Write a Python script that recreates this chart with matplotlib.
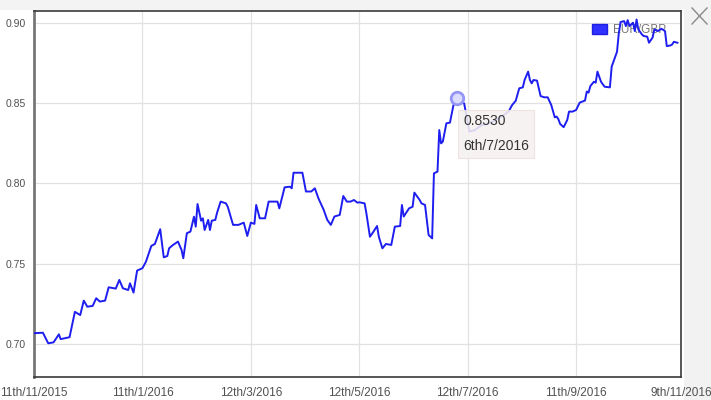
import numpy as np
import pandas as pd
import matplotlib
matplotlib.use("Agg")
import matplotlib.pyplot as plt
from matplotlib.patches import Patch, Rectangle
from matplotlib.lines import Line2D

plt.rcParams['font.family'] = ['Liberation Sans', 'DejaVu Sans']

# EUR/GBP daily rate (days after 11 Nov 2015)
start_date = "2015-11-11"
day_offset = [0, 5, 8, 11, 14, 15, 20, 23, 26, 28, 30, 33, 35, 37, 40, 42, 46, 48, 50, 53,
              54, 56, 58, 61, 63, 66, 68, 71, 73, 75, 76, 78, 81, 83, 84, 86, 88, 90, 91, 92,
              94, 95, 96, 98, 99, 100, 102, 103, 105, 108, 109, 112, 115, 118, 120, 122, 124, 125, 127, 130,
              132, 137, 138, 141, 144, 145, 146, 151, 153, 156, 158, 160, 163, 165, 167, 169, 172, 174, 176, 178,
              180, 182, 183, 186, 187, 189, 191, 193, 194, 196, 198, 201, 203, 206, 207, 208, 211, 213, 214, 217,
              218, 220, 222, 224, 225, 227, 228, 229, 230, 232, 234, 236, 238, 239, 240, 242, 245, 248, 252, 256,
              258, 263, 267, 269, 271, 273, 275, 276, 278, 279, 280, 281, 283, 285, 287, 289, 291, 293, 294, 295,
              296, 298, 300, 301, 303, 305, 307, 310, 311, 312, 313, 315, 316, 317, 319, 321, 324, 325, 327, 328,
              329, 330, 332, 333, 334, 335, 337, 338, 339, 340, 342, 343, 345, 346, 348, 349, 351, 353, 355, 356,
              358, 359, 360, 362]
eur_gbp = [0.7067, 0.7070, 0.7004, 0.7010, 0.7060, 0.7030, 0.7042, 0.7200, 0.7180, 0.7270,
           0.7232, 0.7237, 0.7285, 0.7264, 0.7270, 0.7353, 0.7345, 0.7399, 0.7347, 0.7336,
           0.7378, 0.7320, 0.7457, 0.7472, 0.7513, 0.7611, 0.7623, 0.7715, 0.7540, 0.7548,
           0.7596, 0.7615, 0.7638, 0.7586, 0.7534, 0.7690, 0.7700, 0.7793, 0.7731, 0.7872,
           0.7768, 0.7783, 0.7710, 0.7773, 0.7710, 0.7768, 0.7773, 0.7818, 0.7887, 0.7876,
           0.7855, 0.7742, 0.7742, 0.7756, 0.7673, 0.7756, 0.7748, 0.7866, 0.7783, 0.7783,
           0.7887, 0.7887, 0.7845, 0.7976, 0.7980, 0.7970, 0.8067, 0.8067, 0.7950, 0.7950,
           0.7970, 0.7908, 0.7835, 0.7773, 0.7742, 0.7794, 0.7804, 0.7922, 0.7887, 0.7887,
           0.7897, 0.7880, 0.7883, 0.7876, 0.7814, 0.7668, 0.7700, 0.7735, 0.7668, 0.7596,
           0.7623, 0.7617, 0.7731, 0.7735, 0.7866, 0.7794, 0.7845, 0.7855, 0.7943, 0.7897,
           0.7876, 0.7866, 0.7679, 0.7658, 0.8063, 0.8074, 0.8333, 0.8250, 0.8261, 0.8375,
           0.8379, 0.8489, 0.8530, 0.8499, 0.8510, 0.8499, 0.8323, 0.8333, 0.8364, 0.8375,
           0.8385, 0.8417, 0.8448, 0.8489, 0.8515, 0.8593, 0.8599, 0.8645, 0.8697, 0.8645,
           0.8624, 0.8645, 0.8641, 0.8545, 0.8537, 0.8537, 0.8489, 0.8412, 0.8417, 0.8401,
           0.8371, 0.8351, 0.8396, 0.8448, 0.8448, 0.8458, 0.8504, 0.8517, 0.8573, 0.8566,
           0.8607, 0.8634, 0.8628, 0.8697, 0.8634, 0.8603, 0.8599, 0.8728, 0.8790, 0.8821,
           0.8935, 0.9006, 0.9012, 0.8981, 0.9018, 0.8981, 0.9002, 0.8950, 0.9022, 0.8960,
           0.8929, 0.8919, 0.8915, 0.8877, 0.8909, 0.8960, 0.8950, 0.8964, 0.8950, 0.8856,
           0.8860, 0.8866, 0.8883, 0.8877]

tick_dates = ["2015-11-11", "2016-01-11", "2016-03-12", "2016-05-12",
              "2016-07-12", "2016-09-11", "2016-11-09"]
tick_labels = ["11th/11/2015", "11th/1/2016", "12th/3/2016", "12th/5/2016",
               "12th/7/2016", "11th/9/2016", "9th/11/2016"]
y_ticks = [0.70, 0.75, 0.80, 0.85, 0.90]

hover_date = "2016-07-06"
hover_value = 0.8530
hover_label = "6th/7/2016"

dates = pd.Timestamp(start_date) + pd.to_timedelta(day_offset, unit="D")
ticks = pd.to_datetime(tick_dates)

fig = plt.figure(figsize=(7.11, 4.0), dpi=100, facecolor="white")
# light grey panel background on the right and top
fig.add_artist(Rectangle((684 / 711, 0), 1, 1, transform=fig.transFigure,
                         facecolor="#f2f2f2", edgecolor="none", zorder=0))
fig.add_artist(Rectangle((0, 1 - 10 / 400), 1, 1, transform=fig.transFigure,
                         facecolor="#f3f3f3", edgecolor="none", zorder=0))

ax = fig.add_axes([34 / 711, 1 - 377 / 400, 647 / 711, 366.5 / 400])
ax.set_facecolor("white")

ax.plot(dates, eur_gbp, color="#1e1ef0", lw=1.4, zorder=3, solid_joinstyle="round")

ax.set_xlim(ticks[0], ticks[-1])
ax.set_ylim(0.6794, 0.9078)
ax.set_xticks(ticks)
ax.set_xticklabels(tick_labels)
ax.set_yticks(y_ticks)
ax.set_yticklabels([f"{v:.2f}" for v in y_ticks])
ax.tick_params(length=0, colors="#505050", labelsize=8.5)
ax.tick_params(axis="x", pad=7)
ax.tick_params(axis="y", labelsize=7.5, pad=6)
ax.grid(True, color="#e2e2e2", lw=0.9, zorder=0)
ax.set_axisbelow(True)
for s in ax.spines.values():
    s.set_color("#3a3a3a")
    s.set_linewidth(1.2)
ax.spines["left"].set_color("#777777")
ax.spines["left"].set_linewidth(2)

# legend sits under the line
leg = ax.legend([Patch(facecolor="#3030ff", edgecolor="#2020e0")], ["EUR/GBP"],
                loc="upper right", bbox_to_anchor=(0.994, 0.993), frameon=False,
                fontsize=8.5, handlelength=1.3, handleheight=0.9, handletextpad=0.55,
                labelcolor="#777777")
leg.set_zorder(1)

# hover marker + tooltip
hx = pd.Timestamp(hover_date)
ax.plot([hx], [hover_value], "o", ms=9, mfc="#dcdcff", mec="#9595f5", mew=2, zorder=4)
ax.annotate(f"{hover_value:.4f}\n{hover_label}", xy=(hx, hover_value),
            xytext=(6, -16), textcoords="offset pixels", ha="left", va="top",
            fontsize=10, color="#333333", linespacing=2.0, zorder=5,
            bbox=dict(boxstyle="square,pad=0.35", fc="#f5f1f1", ec="#f0e0e0",
                      alpha=0.88, lw=0.8))

# close icon
fig.add_artist(Line2D([692 / 711, 707 / 711], [1 - 8 / 400, 1 - 24 / 400],
                      transform=fig.transFigure, color="#8a8a8a", lw=1))
fig.add_artist(Line2D([692 / 711, 707 / 711], [1 - 24 / 400, 1 - 8 / 400],
                      transform=fig.transFigure, color="#8a8a8a", lw=1))

fig.savefig("out.png", dpi=100, facecolor=fig.get_facecolor())
